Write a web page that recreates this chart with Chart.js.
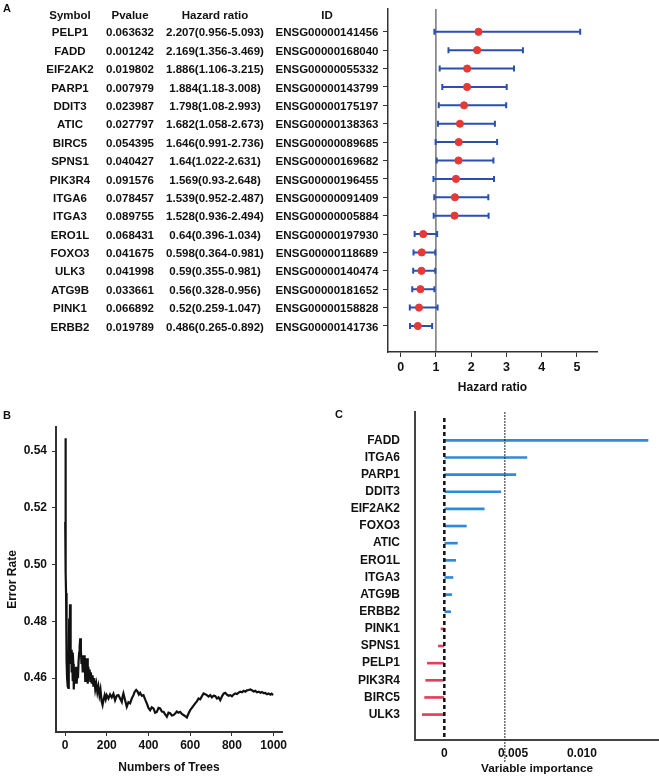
<!DOCTYPE html>
<html>
<head>
<meta charset="utf-8">
<script src="https://cdn.jsdelivr.net/npm/chart.js@4"></script>
<style>
body{margin:0;background:#fff;}
#wrap{position:relative;width:659px;height:780px;overflow:hidden;}
canvas{position:absolute;}
.lab{position:absolute;font:bold 11px Arial,"Liberation Sans",sans-serif;line-height:11px;color:#111;}
</style>
</head>
<body>
<div id="wrap">
<canvas id="forest" width="659" height="400" style="left:0;top:0"></canvas>
<canvas id="error" width="330" height="360" style="left:0;top:420px"></canvas>
<canvas id="importance" width="329" height="380" style="left:330px;top:400px"></canvas>
<div class="lab" style="left:3px;top:3px">A</div>
<div class="lab" style="left:3px;top:410px">B</div>
<div class="lab" style="left:335px;top:409px">C</div>
</div>
<script>
// Panel A - univariate Cox table + forest plot
const symbols = ["PELP1","FADD","EIF2AK2","PARP1","DDIT3","ATIC","BIRC5","SPNS1","PIK3R4","ITGA6","ITGA3","ERO1L","FOXO3","ULK3","ATG9B","PINK1","ERBB2"];
const pValues = ["0.063632","0.001242","0.019802","0.007979","0.023987","0.027797","0.054395","0.040427","0.091576","0.078457","0.089755","0.068431","0.041675","0.041998","0.033661","0.066892","0.019789"];
const hazardRatio = [2.207,2.169,1.886,1.884,1.798,1.682,1.646,1.64,1.569,1.539,1.528,0.64,0.598,0.59,0.56,0.52,0.486];
const ciLower = [0.956,1.356,1.106,1.18,1.08,1.058,0.991,1.022,0.93,0.952,0.936,0.396,0.364,0.355,0.328,0.259,0.265];
const ciUpper = [5.093,3.469,3.215,3.008,2.993,2.673,2.736,2.631,2.648,2.487,2.494,1.034,0.981,0.981,0.956,1.047,0.892];
const ensemblIds = ["ENSG00000141456","ENSG00000168040","ENSG00000055332","ENSG00000143799","ENSG00000175197","ENSG00000138363","ENSG00000089685","ENSG00000169682","ENSG00000196455","ENSG00000091409","ENSG00000005884","ENSG00000197930","ENSG00000118689","ENSG00000140474","ENSG00000181652","ENSG00000158828","ENSG00000141736"];
const tableHeader = ["Symbol","Pvalue","Hazard ratio","ID"];
const hrTicks = [0,1,2,3,4,5];

// Panel B - random forest error rate
const treeCounts = [1,2,3,4,5,6,7,8,9,10,12,14,16,18,20,22,24,26,28,30,32,34,36,38,40,42,44,46,48,50,53,56,59,62,65,68,70,73,76,79,82,85,88,91,94,97,100,103,106,109,112,115,118,121,124,128,132,136,140,145,150,155,160,165,170,175,180,185,190,195,200,208,216,224,232,240,248,256,264,272,276,280,288,296,304,312,320,328,334,341,348,354,360,368,376,384,392,400,408,416,424,432,440,448,456,464,472,480,488,496,504,512,520,528,536,544,552,560,568,576,584,592,600,608,616,624,632,640,648,656,664,672,680,688,696,704,712,720,728,736,744,752,760,768,776,784,792,800,808,816,824,832,840,848,856,864,872,880,888,896,904,912,920,928,936,944,952,960,968,976,984,990,997];
const errorRate = [0.515,0.5445,0.525,0.497,0.490,0.483,0.486,0.478,0.466,0.460,0.469,0.457,0.4565,0.468,0.481,0.474,0.486,0.478,0.465,0.470,0.462,0.468,0.459,0.469,0.465,0.456,0.462,0.458,0.463,0.459,0.464,0.458,0.463,0.460,0.466,0.469,0.471,0.474,0.470,0.465,0.467,0.462,0.468,0.465,0.468,0.459,0.467,0.462,0.467,0.458,0.464,0.460,0.463,0.459,0.462,0.458,0.461,0.457,0.460,0.456,0.458,0.455,0.457,0.454,0.456,0.452,0.4505,0.4525,0.454,0.4525,0.454,0.4528,0.4542,0.4532,0.4545,0.4522,0.4538,0.454,0.4528,0.4516,0.4535,0.4546,0.4522,0.4499,0.4515,0.4511,0.4528,0.454,0.4552,0.4558,0.4552,0.4542,0.4548,0.4538,0.454,0.4525,0.4511,0.4495,0.4487,0.4497,0.4493,0.4478,0.4481,0.4495,0.4493,0.4482,0.4481,0.4472,0.4464,0.4478,0.4476,0.4468,0.447,0.4475,0.4482,0.4478,0.4481,0.4474,0.447,0.4466,0.4461,0.4475,0.4487,0.4495,0.4503,0.4511,0.4518,0.4528,0.4525,0.4536,0.4546,0.4543,0.454,0.4535,0.454,0.4532,0.4538,0.4537,0.4528,0.4532,0.4522,0.4535,0.4545,0.4548,0.4542,0.4538,0.454,0.4536,0.4542,0.4546,0.4544,0.4549,0.4552,0.455,0.4555,0.4552,0.4557,0.4558,0.456,0.4557,0.4553,0.4555,0.455,0.4552,0.4548,0.4551,0.4547,0.4548,0.4543,0.4546,0.4542,0.4545,0.454];
const errorTicks = [0.46,0.48,0.50,0.52,0.54];
const treeTicks = [0,200,400,600,800,1000];

// Panel C - variable importance
const importanceGenes = ["FADD","ITGA6","PARP1","DDIT3","EIF2AK2","FOXO3","ATIC","ERO1L","ITGA3","ATG9B","ERBB2","PINK1","SPNS1","PELP1","PIK3R4","BIRC5","ULK3"];
const importanceValues = [0.0148,0.0060,0.0052,0.0041,0.0029,0.0016,0.00095,0.00083,0.00063,0.00054,0.00046,-0.00024,-0.00043,-0.00123,-0.00135,-0.00143,-0.0016];
const importanceTicks = [0,0.005,0.010];
const importanceCutoff = 0.0044;


const FONT = 'Arial, "Liberation Sans", sans-serif';
Chart.defaults.font.family = FONT;
Chart.defaults.font.weight = 'bold';
Chart.defaults.color = '#111';

const rowPos = symbols.map((s, i) => symbols.length - i);
const impPos = importanceGenes.map((g, i) => importanceGenes.length - i);

// keep chart areas where the reference has them (no label overhang padding)
function noPad(s){
    s.paddingTop = 0; s.paddingBottom = 0;
    s.paddingLeft = 0; s.paddingRight = 0;
}


const forestPlugin = {
    id: 'forest',
    beforeDatasetsDraw(chart) {
        const {ctx, chartArea, scales: {x, y}} = chart;
        ctx.save();
        let x1 = x.getPixelForValue(1);
        ctx.strokeStyle = '#333';
        ctx.lineWidth = 1;
        ctx.beginPath();
        ctx.moveTo(x1, chartArea.top);
        ctx.lineTo(x1, chartArea.bottom);
        ctx.stroke();

        ctx.strokeStyle = '#2b4faf';
        ctx.lineWidth = 2;
        symbols.forEach((s, i) => {
            let py = y.getPixelForValue(rowPos[i]);
            let a = x.getPixelForValue(ciLower[i]);
            let b = x.getPixelForValue(ciUpper[i]);
            ctx.beginPath();
            ctx.moveTo(a, py); ctx.lineTo(b, py);
            ctx.moveTo(a, py - 3); ctx.lineTo(a, py + 3);
            ctx.moveTo(b, py - 3); ctx.lineTo(b, py + 3);
            ctx.stroke();
        });
        ctx.restore();
    },
    afterDraw(chart) {
        const {ctx, scales: {y}} = chart;
        const cols = [70, 130, 215, 327];
        ctx.save();
        ctx.font = 'bold 11.5px ' + FONT;
        ctx.fillStyle = '#111';
        ctx.textAlign = 'center';
        ctx.textBaseline = 'middle';
        let headY = y.getPixelForValue(rowPos[0]) - 16;
        tableHeader.forEach((h, k) => ctx.fillText(h, cols[k], headY));
        symbols.forEach((s, i) => {
            let py = y.getPixelForValue(rowPos[i]) + 1.5;
            let cells = [s, pValues[i], hazardRatio[i] + '(' + ciLower[i] + '-' + ciUpper[i] + ')', ensemblIds[i]];
            cells.forEach((c, k) => ctx.fillText(c, cols[k], py));
        });
        ctx.restore();
    }
};

new Chart(document.getElementById('forest'), {
    type: 'scatter',
    data: {
        datasets: [{
            data: hazardRatio.map((v, i) => ({x: v, y: rowPos[i]})),
            backgroundColor: '#e53935',
            borderColor: '#e53935',
            pointRadius: 3.6,
            pointHoverRadius: 3.6
        }]
    },
    options: {
        responsive: false,
        animation: false,
        layout: {padding: {left: 0, top: 9, right: 62, bottom: 0}},
        plugins: {legend: {display: false}, tooltip: {enabled: false}},
        scales: {
            x: {
                type: 'linear', min: -0.36, max: 5.57,
                afterBuildTicks: s => { s.ticks = hrTicks.map(v => ({value: v})); },
                afterFit: s => { s.height = 48; noPad(s); },
                grid: {drawOnChartArea: false, drawTicks: true, tickLength: 5, color: '#333'},
                border: {color: '#333', width: 1.5},
                ticks: {font: {size: 12.5, weight: 'bold'}, color: '#111', padding: 3},
                title: {display: true, text: 'Hazard ratio', font: {size: 12, weight: 'bold'}, color: '#111', padding: {top: 0, bottom: 5}}
            },
            y: {
                type: 'linear', min: -0.415, max: 18.24,
                afterBuildTicks: s => { s.ticks = rowPos.map(v => ({value: v})); },
                afterFit: s => { s.width = 388; noPad(s); },
                grid: {drawOnChartArea: false, drawTicks: true, tickLength: 5, color: '#333'},
                border: {color: '#333', width: 1.5},
                ticks: {display: false}
            }
        }
    },
    plugins: [forestPlugin]
});


new Chart(document.getElementById('error'), {
    type: 'line',
    data: {
        datasets: [{
            data: treeCounts.map((t, i) => ({x: t, y: errorRate[i]})),
            borderColor: '#111',
            borderWidth: 2.2,
            pointRadius: 0,
            tension: 0
        }]
    },
    options: {
        responsive: false,
        animation: false,
        layout: {padding: {left: 0, top: 7, right: 48, bottom: 0}},
        plugins: {legend: {display: false}, tooltip: {enabled: false}},
        scales: {
            x: {
                type: 'linear', min: -43.2, max: 1040,
                afterBuildTicks: s => { s.ticks = treeTicks.map(v => ({value: v})); },
                afterFit: s => { s.height = 48; noPad(s); },
                grid: {drawOnChartArea: false, drawTicks: true, tickLength: 4, color: '#333'},
                border: {color: '#333', width: 2},
                ticks: {font: {size: 12, weight: 'bold'}, color: '#111', padding: 2, callback: v => String(v)},
                title: {display: true, text: 'Numbers of Trees', font: {size: 12, weight: 'bold'}, color: '#111', padding: {top: 0, bottom: 5}}
            },
            y: {
                type: 'linear', min: 0.441, max: 0.5485,
                afterBuildTicks: s => { s.ticks = errorTicks.map(v => ({value: v})); },
                afterFit: s => { s.width = 56; noPad(s); },
                grid: {drawOnChartArea: false, drawTicks: true, tickLength: 4, color: '#333'},
                border: {color: '#333', width: 2},
                ticks: {font: {size: 12, weight: 'bold'}, color: '#111', padding: 5, callback: v => v.toFixed(2)},
                title: {display: true, text: 'Error Rate', font: {size: 12, weight: 'bold'}, color: '#111', padding: {top: 5, bottom: 0}}
            }
        }
    }
});


const importanceLines = {
    id: 'importanceLines',
    afterDatasetsDraw(chart) {
        const {ctx, chartArea: {top, bottom}, scales: {x}} = chart;
        ctx.save();
        let xc = x.getPixelForValue(importanceCutoff);
        ctx.strokeStyle = '#222';
        ctx.lineWidth = 1;
        ctx.setLineDash([2, 1]);
        ctx.beginPath();
        ctx.moveTo(xc, top);
        ctx.lineTo(xc, bottom + 22);
        ctx.stroke();

        let x0 = x.getPixelForValue(0);
        ctx.strokeStyle = '#111';
        ctx.lineWidth = 2.5;
        ctx.setLineDash([4, 3]);
        ctx.beginPath();
        ctx.moveTo(x0, top + 6);
        ctx.lineTo(x0, bottom);
        ctx.stroke();
        ctx.restore();
    }
};

new Chart(document.getElementById('importance'), {
    type: 'bar',
    data: {
        datasets: [{
            data: importanceValues.map((v, i) => ({x: v, y: impPos[i]})),
            backgroundColor: importanceValues.map(v => v >= 0 ? '#2f8ad8' : '#e0405c'),
            barThickness: 2,
            borderWidth: 0
        }]
    },
    options: {
        indexAxis: 'y',
        responsive: false,
        animation: false,
        layout: {padding: {left: 0, top: 12, right: 0, bottom: 0}},
        plugins: {legend: {display: false}, tooltip: {enabled: false}},
        scales: {
            x: {
                type: 'linear', min: -0.00213, max: 0.0156,
                afterBuildTicks: s => { s.ticks = importanceTicks.map(v => ({value: v})); },
                afterFit: s => { s.height = 40; noPad(s); },
                grid: {drawOnChartArea: false, drawTicks: false},
                border: {color: '#444', width: 2},
                ticks: {font: {size: 12, weight: 'bold'}, color: '#111', padding: 6, callback: v => v === 0 ? '0' : v.toFixed(3)},
                title: {display: true, text: 'Variable importance', font: {size: 11.8, weight: 'bold'}, color: '#111', padding: {top: 0, bottom: 4}}
            },
            y: {
                type: 'linear', min: 0.08, max: 18.09,
                afterBuildTicks: s => { s.ticks = impPos.map(v => ({value: v})); },
                afterFit: s => { s.width = 85; noPad(s); },
                grid: {drawOnChartArea: false, drawTicks: false},
                border: {color: '#444', width: 2},
                ticks: {font: {size: 12, weight: 'bold'}, color: '#111', padding: 15, callback: v => importanceGenes[impPos.indexOf(v)]}
            }
        }
    },
    plugins: [importanceLines]
});
</script>
</body>
</html>
